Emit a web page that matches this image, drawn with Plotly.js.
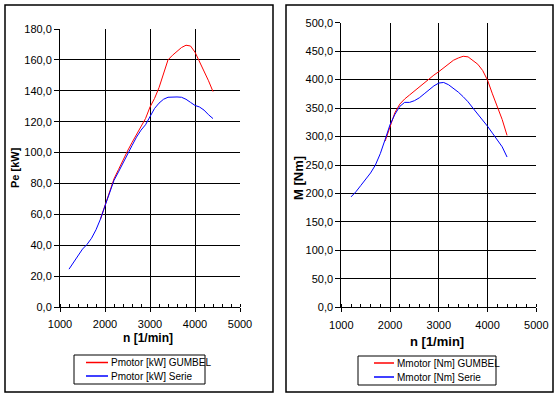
<!DOCTYPE html>
<html>
<head>
<meta charset="utf-8">
<script src="https://cdn.plot.ly/plotly-3.0.1.min.js"></script>
<style>html,body{margin:0;padding:0;background:#fff;}#chart{width:559px;height:398px;}</style>
</head>
<body>
<div id="chart"></div>
<script>
// Left chart: power
const rpmSerie = [1200,1300,1400,1500,1600,1700,1800,1900,2000,2100,2200,2300,2400,2500,2600,2700,2800,2900,3000,3100,3200,3300,3400,3500,3600,3700,3800,3900,4000,4100,4200,4300,4400];
const pSerie = [24.5,29,33.5,37.5,40.5,44.5,50,57,65.5,74,82,87.5,93.5,99,104.5,110,114.5,118,123,128.5,132,134.5,135.8,136,136,135.8,134.5,132.5,130.5,129.5,127.5,124.5,122];
const rpmGumbel = [1900,2000,2100,2200,2300,2400,2500,2600,2700,2800,2900,3000,3100,3200,3300,3400,3500,3600,3700,3800,3900,4000,4100,4200,4300,4400];
const pGumbel = [57,65.5,74,83,89,95.5,101,106.5,111.5,116.5,122,129.5,135,142,151,160,163,165.5,168,169.5,169,165,159,152.5,146.5,139.5];
// Right chart: torque
const mSerie = [194,203,214,225,236,250,270,295,321,339,353,360,360,363,368,375,382,389,394,395,391,385,378,370,361,350,340,328,318,306,295,282,264];
const mGumbel = [292,318,342,357,366,373,380,387,395,402,408,414,421,428,434,438,441,440,433,427,416,399,375,352,330,302];

const seriesNamesP = ['Pmotor [kW] GUMBEL', 'Pmotor [kW] Serie'];
const seriesNamesM = ['Mmotor [Nm] GUMBEL', 'Mmotor [Nm] Serie'];
const seriesColors = ['#ff0000', '#0000ff'];

const xTicks = [1000,2000,3000,4000,5000];
const pTicks = [0,20,40,60,80,100,120,140,160,180];
const mTicks = [0,50,100,150,200,250,300,350,400,450,500];

const W = 559, H = 398;
const px = v => v / W;
const py = v => 1 - v / H;
const FONT = 'Arial, "Liberation Sans", sans-serif';
const NARROW = '"Liberation Sans Narrow", "Arial Narrow", Arial, sans-serif';

const traces = [
  {x: rpmGumbel, y: pGumbel, name: seriesNamesP[0], line: {color: seriesColors[0], width: 1}, xaxis: 'x', yaxis: 'y'},
  {x: rpmSerie, y: pSerie, name: seriesNamesP[1], line: {color: seriesColors[1], width: 1}, xaxis: 'x', yaxis: 'y'},
  {x: rpmGumbel, y: mGumbel, name: seriesNamesM[0], line: {color: seriesColors[0], width: 1}, xaxis: 'x2', yaxis: 'y2'},
  {x: rpmSerie, y: mSerie, name: seriesNamesM[1], line: {color: seriesColors[1], width: 1}, xaxis: 'x2', yaxis: 'y2'}
].map(t => Object.assign({type: 'scatter', mode: 'lines', hoverinfo: 'x+y+name'}, t));

const tickFont = {family: FONT, size: 11, color: '#000'};

function xAxis(dom, anchor) {
  return {
    domain: dom, range: [1000, 5000], tickvals: xTicks, tickformat: 'd', anchor: anchor,
    showgrid: true, gridcolor: '#000', gridwidth: 1,
    showline: true, linecolor: '#000', linewidth: 1,
    ticks: 'outside', ticklen: 4, tickcolor: '#000', tickwidth: 1, ticklabelstandoff: 3,
    minor: {dtick: 200, ticks: 'inside', ticklen: 3, tickcolor: '#000', tickwidth: 1, showgrid: false},
    tickfont: tickFont, zeroline: false, fixedrange: true
  };
}
function yAxis(dom, rng, vals, anchor) {
  return {
    domain: dom, range: rng, tickvals: vals, tickformat: '.1f', anchor: anchor,
    showgrid: true, gridcolor: '#000', gridwidth: 1,
    showline: true, linecolor: '#000', linewidth: 1,
    ticks: 'outside', ticklen: 5, tickcolor: '#000', tickwidth: 1,
    tickfont: tickFont, zeroline: false, fixedrange: true
  };
}

// Legend boxes (drawn as layout decorations, Excel-style compact)
function legendParts(names, box, lineX0, lineX1, rowY) {
  const shapes = [{type: 'rect', xref: 'paper', yref: 'paper', x0: px(box[0]), x1: px(box[2]), y0: py(box[3]), y1: py(box[1]), line: {color: '#000', width: 1}, fillcolor: '#fff'}];
  const anns = [];
  names.forEach((n, i) => {
    shapes.push({type: 'line', xref: 'paper', yref: 'paper', x0: px(lineX0), x1: px(lineX1), y0: py(rowY[i]), y1: py(rowY[i]), line: {color: seriesColors[i], width: 1.5}});
    anns.push({text: n, xref: 'paper', yref: 'paper', x: px(lineX1 + 1), y: py(rowY[i]), xanchor: 'left', yanchor: 'middle', showarrow: false, font: {family: NARROW, size: 10, color: '#000'}});
  });
  return {shapes, anns};
}
const legL = legendParts(seriesNamesP, [74, 355, 205, 384], 86, 108, [362.5, 376]);
const legR = legendParts(seriesNamesM, [358, 356, 496, 385], 374, 394, [363, 377]);

const layout = {
  width: W, height: H,
  margin: {l: 0, r: 0, t: 0, b: 0},
  paper_bgcolor: '#fff', plot_bgcolor: '#fff',
  separators: ',.',
  showlegend: false,
  xaxis: xAxis([px(60), px(240)], 'y'),
  yaxis: yAxis([py(307), py(29)], [0, 180], pTicks, 'x'),
  xaxis2: xAxis([px(341.3), px(536.3)], 'y2'),
  yaxis2: yAxis([py(307.3), py(22.7)], [0, 500], mTicks, 'x2'),
  shapes: [
    {type: 'rect', xref: 'paper', yref: 'paper', x0: px(5), x1: px(273), y0: py(392), y1: py(5), line: {color: '#000', width: 1.5}, layer: 'below'},
    {type: 'rect', xref: 'paper', yref: 'paper', x0: px(286), x1: px(553), y0: py(392), y1: py(5), line: {color: '#000', width: 1.5}, layer: 'below'}
  ].concat(legL.shapes, legR.shapes),
  annotations: [
    {text: '<b>n [1/min]</b>', xref: 'paper', yref: 'paper', x: px(148), y: py(338), xanchor: 'center', yanchor: 'middle', showarrow: false, font: {family: FONT, size: 12, color: '#000'}},
    {text: '<b>n [1/min]</b>', xref: 'paper', yref: 'paper', x: px(437), y: py(341), xanchor: 'center', yanchor: 'middle', showarrow: false, font: {family: FONT, size: 13, color: '#000'}},
    {text: '<b>Pe [kW]</b>', xref: 'paper', yref: 'paper', x: px(15), y: py(168), xanchor: 'center', yanchor: 'middle', textangle: -90, showarrow: false, font: {family: FONT, size: 11, color: '#000'}},
    {text: '<b>M [Nm]</b>', xref: 'paper', yref: 'paper', x: px(298), y: py(178), xanchor: 'center', yanchor: 'middle', textangle: -90, showarrow: false, font: {family: FONT, size: 13, color: '#000'}}
  ].concat(legL.anns, legR.anns)
};

Plotly.newPlot('chart', traces, layout, {staticPlot: true, displayModeBar: false});
</script>
</body>
</html>
